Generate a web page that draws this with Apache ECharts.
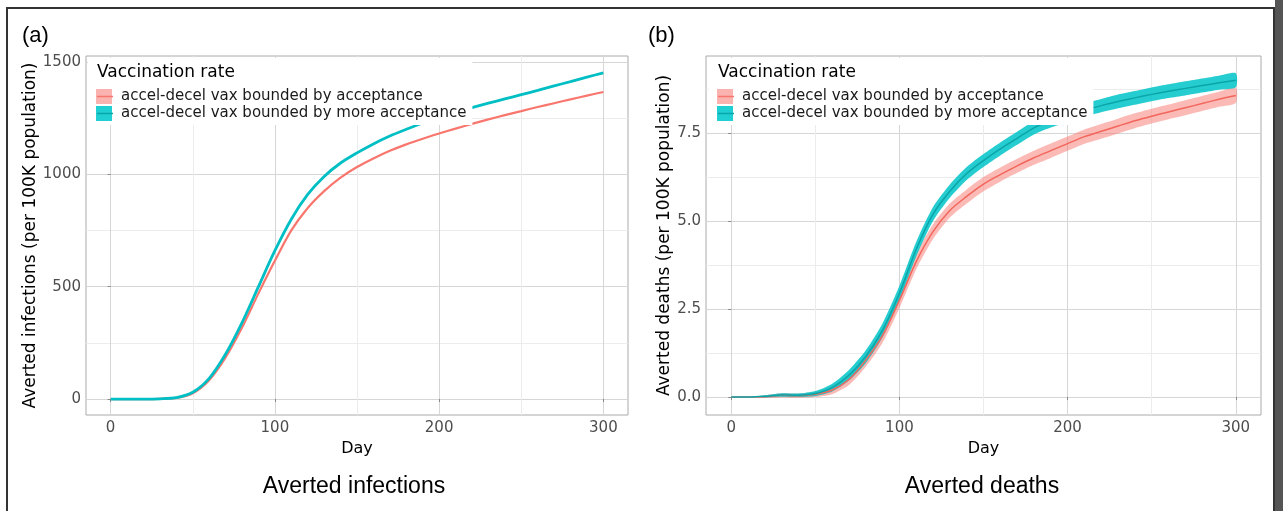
<!DOCTYPE html>
<html>
<head>
<meta charset="utf-8">
<script src="https://cdn.jsdelivr.net/npm/echarts@6/dist/echarts.min.js"></script>
<style>
  html, body { margin: 0; padding: 0; background: #fff; }
  #chart { width: 1283px; height: 511px; }
</style>
</head>
<body>
<div id="chart"></div>
<script>
// days sampled every 10 days
var days = [0,10,20,30,40,50,60,70,80,90,100,110,120,130,140,150,160,170,180,190,200,210,220,230,240,250,260,270,280,290,300];

// averted infections (per 100K)
var infRed  = [0,0,0,1,5,26,84,185,318,470,615,750,850,925,985,1032,1070,1104,1133,1158,1181,1203,1224,1244,1263,1281,1299,1316,1333,1350,1366];
var infCyan = [0,0,0,1,6,30,92,200,340,500,660,800,910,990,1050,1095,1135,1170,1200,1228,1253,1275,1296,1316,1335,1354,1373,1393,1412,1432,1451];

// averted deaths (per 100K): centre line and full ribbon width
var dthRed  = [0,0,0.01,0.05,0.04,0.08,0.2,0.5,1.05,1.75,2.75,3.85,4.7,5.3,5.7,6.05,6.32,6.57,6.8,7.0,7.2,7.4,7.55,7.7,7.85,7.98,8.1,8.22,8.34,8.46,8.57];
var dthCyan = [0,0,0.02,0.06,0.05,0.1,0.27,0.62,1.15,1.9,2.95,4.2,5.2,5.85,6.35,6.72,7.05,7.35,7.65,7.85,8.0,8.15,8.28,8.4,8.5,8.6,8.69,8.77,8.85,8.93,9.0];
var bandRed  = [0,0,0.08,0.12,0.12,0.16,0.24,0.32,0.38,0.42,0.44,0.44,0.42,0.4,0.4,0.4,0.4,0.4,0.4,0.41,0.41,0.41,0.42,0.42,0.42,0.42,0.42,0.43,0.43,0.43,0.43];
var bandCyan = [0,0,0.06,0.1,0.1,0.14,0.22,0.3,0.36,0.4,0.42,0.42,0.4,0.38,0.37,0.37,0.37,0.37,0.38,0.38,0.38,0.38,0.38,0.39,0.39,0.39,0.39,0.4,0.4,0.4,0.4];

var xMajor = [0,100,200,300];
var xMinor = [50,150,250];
var infMajor = [0,500,1000,1500];
var infMinor = [250,750,1250];
var dthMajor = [0,2.5,5,7.5];
var dthMinor = [1.25,3.75,6.25,8.75];

var nameRed = 'accel-decel vax bounded by acceptance';
var nameCyan = 'accel-decel vax bounded by more acceptance';

var RED = '#F8766D', CYAN = '#00BFC4';
var FONT = 'DejaVu Sans';

function pts(ys) { return days.map(function (d, i) { return [d, ys[i]]; }); }

function xAx(grid, ticks, major) {
    return {
        type: 'value', gridIndex: grid, min: -15, max: 315, position: 'bottom',
        name: major ? 'Day' : '', nameLocation: 'middle', nameGap: 20,
        nameTextStyle: { fontFamily: FONT, fontSize: 16, color: '#000' },
        axisLine: { show: false },
        axisTick: { show: major, length: 3, lineStyle: { color: '#888' }, customValues: ticks },
        axisLabel: { show: major, customValues: ticks, fontFamily: FONT, fontSize: 15, color: '#4d4d4d', margin: 6 },
        splitLine: { show: true, lineStyle: { color: major ? '#d6d6d6' : '#ececec', width: 1 } }
    };
}
function yAx(grid, min, max, ticks, major, title, gap, fmt) {
    return {
        type: 'value', gridIndex: grid, min: min, max: max, position: 'left',
        name: major ? title : '', nameLocation: 'middle', nameGap: gap || 0,
        nameTextStyle: { fontFamily: FONT, fontSize: 17, color: '#000' },
        axisLine: { show: false },
        axisTick: { show: major, length: 3, lineStyle: { color: '#888' }, customValues: ticks },
        axisLabel: { show: major, customValues: ticks, fontFamily: FONT, fontSize: 15, color: '#4d4d4d', margin: 5, formatter: fmt },
        splitLine: { show: true, lineStyle: { color: major ? '#d6d6d6' : '#ececec', width: 1 } }
    };
}

function line(name, xi, yi, data, color, w) {
    return { name: name, type: 'line', xAxisIndex: xi, yAxisIndex: yi, data: data, smooth: 0.3,
        symbol: 'none', z: 3, lineStyle: { color: color, width: w }, itemStyle: { color: color } };
}

// ribbon drawn as one polygon through the axis scales
function ribbon(centre, band, fill) {
    return {
        type: 'custom', xAxisIndex: 3, yAxisIndex: 3, data: [0], z: 2, silent: true,
        renderItem: function (params, api) {
            var up = [], lo = [];
            for (var i = 0; i < days.length; i++) {
                up.push(api.coord([days[i], centre[i] + band[i] / 2]));
                lo.push(api.coord([days[i], centre[i] - band[i] / 2]));
            }
            return { type: 'polygon', shape: { points: up.concat(lo.reverse()), smooth: 0.25 }, style: { fill: fill } };
        }
    };
}

var legendBase = function (left) {
    return { left: left, top: 58, orient: 'vertical', padding: [31, 6, 4, 8], backgroundColor: '#fff',
        icon: 'rect', itemWidth: 16, itemHeight: 15, itemGap: 2, selectedMode: false,
        textStyle: { fontFamily: FONT, fontSize: 15, color: '#1a1a1a', padding: [0, 0, 0, 4] },
        data: [{ name: nameRed, itemStyle: { color: '#fab3ae' } }, { name: nameCyan, itemStyle: { color: '#1fcfd2' } }] };
};

var chart = echarts.init(document.getElementById('chart'));

var option = {
    animation: false,
    backgroundColor: '#fff',
    grid: [
        { left: 86, top: 56, width: 542, height: 359, show: true, borderColor: '#aaaaaa', borderWidth: 1 },
        { left: 706, top: 56, width: 555, height: 359, show: true, borderColor: '#aaaaaa', borderWidth: 1 }
    ],
    xAxis: [
        xAx(0, xMinor, false), xAx(0, xMajor, true),
        xAx(1, xMinor, false), xAx(1, xMajor, true)
    ],
    yAxis: [
        yAx(0, -71, 1526, infMinor, false), yAx(0, -71, 1526, infMajor, true, 'Averted infections (per 100K population)', 42, function (v) { return String(v); }),
        yAx(1, -0.51, 9.69, dthMinor, false), yAx(1, -0.51, 9.69, dthMajor, true, 'Averted deaths (per 100K population)', 27, function (v) { return v.toFixed(1); })
    ],
    legend: [legendBase(88), legendBase(709)],
    graphic: [
        { type: 'rect', shape: { x: 7, y: 8, width: 1267, height: 540 }, style: { fill: 'none', stroke: '#333', lineWidth: 2 }, z: 100 },
        { type: 'rect', shape: { x: 1275, y: 0, width: 8, height: 511 }, style: { fill: '#555' }, z: 100 },
        { type: 'text', x: 22, y: 36, style: { text: '(a)', fontFamily: 'Liberation Sans', fontSize: 22, fill: '#000', verticalAlign: 'middle' }, z: 100 },
        { type: 'text', x: 648, y: 36, style: { text: '(b)', fontFamily: 'Liberation Sans', fontSize: 22, fill: '#000', verticalAlign: 'middle' }, z: 100 },
        { type: 'text', x: 97, y: 73, style: { text: 'Vaccination rate', fontFamily: FONT, fontSize: 17, fill: '#000', verticalAlign: 'middle' }, z: 100 },
        { type: 'text', x: 718, y: 73, style: { text: 'Vaccination rate', fontFamily: FONT, fontSize: 17, fill: '#000', verticalAlign: 'middle' }, z: 100 },
        { type: 'line', shape: { x1: 97, y1: 96.5, x2: 113, y2: 96.5 }, style: { stroke: RED, lineWidth: 1.5 }, z: 100 },
        { type: 'line', shape: { x1: 97, y1: 113.5, x2: 113, y2: 113.5 }, style: { stroke: '#0aa5a9', lineWidth: 1.5 }, z: 100 },
        { type: 'line', shape: { x1: 718, y1: 96.5, x2: 734, y2: 96.5 }, style: { stroke: RED, lineWidth: 1.5 }, z: 100 },
        { type: 'line', shape: { x1: 718, y1: 113.5, x2: 734, y2: 113.5 }, style: { stroke: '#0aa5a9', lineWidth: 1.5 }, z: 100 },
        { type: 'text', x: 354, y: 487, style: { text: 'Averted infections', fontFamily: 'Liberation Sans', fontSize: 23, fill: '#000', align: 'center', verticalAlign: 'middle' }, z: 100 },
        { type: 'text', x: 982, y: 487, style: { text: 'Averted deaths', fontFamily: 'Liberation Sans', fontSize: 23, fill: '#000', align: 'center', verticalAlign: 'middle' }, z: 100 }
    ],
    series: [
        line(nameRed, 1, 1, pts(infRed), RED, 2.2),
        line(nameCyan, 1, 1, pts(infCyan), CYAN, 2.8),
        ribbon(dthRed, bandRed, 'rgba(248,118,109,0.5)'),
        ribbon(dthCyan, bandCyan, 'rgba(0,196,200,0.85)'),
        line(nameRed, 3, 3, pts(dthRed), '#f2665c', 1.5),
        line(nameCyan, 3, 3, pts(dthCyan), '#0aa5a9', 1.5)
    ]
};
chart.setOption(option);
</script>
</body>
</html>
